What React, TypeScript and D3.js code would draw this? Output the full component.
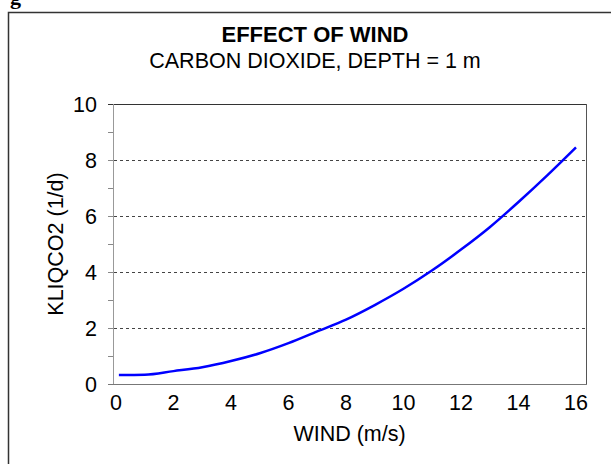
import React, { useEffect, useRef } from 'react';
import * as d3 from 'd3';

// values
const windSpeed = [0.1, 1, 2, 3, 4, 5, 6, 7, 8, 9, 10, 11, 12, 13, 14, 15, 16];
const kliqco2 = [0.32, 0.33, 0.46, 0.6, 0.82, 1.1, 1.46, 1.88, 2.3, 2.82, 3.4, 4.06, 4.8, 5.6, 6.5, 7.45, 8.45];
const xTicks = [0, 2, 4, 6, 8, 10, 12, 14, 16];
const yTicks = [0, 2, 4, 6, 8, 10];
const yMinorTicks = [0, 1, 2, 3, 4, 5, 6, 7, 8, 9, 10];
const gridValues = [2, 4, 6, 8];

const App: React.FC = () => {
  const svgRef = useRef<SVGSVGElement>(null);

  useEffect(() => {
    if (!svgRef.current) return;
    const svg = d3.select(svgRef.current);
    svg.selectAll('*').remove();

    const font = '"Liberation Sans", Arial, sans-serif';
    const left = 113, right = 586, top = 104, bottom = 384;

    const x = d3.scaleLinear().domain([0, 16]).range([116, 576]);
    const y = d3.scaleLinear().domain([0, 10]).range([bottom, top]);

    // cut-off caption glyph above the frame (clipped in the original too)
    svg.append('text')
      .attr('x', 10).attr('y', 4)
      .attr('font-family', '"Liberation Serif", "Times New Roman", serif')
      .attr('font-weight', 'bold')
      .attr('font-size', 22)
      .attr('fill', '#000')
      .text('g');

    // outer frame (runs off the right/bottom edge)
    svg.append('rect')
      .attr('x', 8.5).attr('y', 12.5)
      .attr('width', 700).attr('height', 700)
      .attr('fill', 'none')
      .attr('stroke', '#333')
      .attr('stroke-width', 1.5);

    // titles
    svg.append('text')
      .attr('x', 315).attr('y', 42)
      .attr('text-anchor', 'middle')
      .attr('font-family', font)
      .attr('font-weight', 'bold')
      .attr('font-size', 22)
      .text('EFFECT OF WIND');
    svg.append('text')
      .attr('x', 315).attr('y', 68)
      .attr('text-anchor', 'middle')
      .attr('font-family', font)
      .attr('font-size', 21.5)
      .text('CARBON DIOXIDE, DEPTH = 1 m');

    // gridlines
    svg.append('g').selectAll('line')
      .data(gridValues)
      .enter().append('line')
      .attr('x1', left - 5).attr('x2', right)
      .attr('y1', d => y(d) + 0.5).attr('y2', d => y(d) + 0.5)
      .attr('stroke', '#444')
      .attr('stroke-dasharray', '3,3');

    // y ticks
    svg.append('g').selectAll('line')
      .data(yMinorTicks)
      .enter().append('line')
      .attr('x1', left - 5).attr('x2', left)
      .attr('y1', d => y(d) + 0.5).attr('y2', d => y(d) + 0.5)
      .attr('stroke', '#888');

    // plot box
    svg.append('line')
      .attr('x1', left - 5).attr('x2', right)
      .attr('y1', top + 0.5).attr('y2', top + 0.5)
      .attr('stroke', '#333');
    svg.append('line')
      .attr('x1', right + 0.5).attr('x2', right + 0.5)
      .attr('y1', top).attr('y2', bottom)
      .attr('stroke', '#555');
    svg.append('line')
      .attr('x1', left + 0.5).attr('x2', left + 0.5)
      .attr('y1', top).attr('y2', bottom)
      .attr('stroke', '#999');
    svg.append('line')
      .attr('x1', left - 5).attr('x2', right + 1)
      .attr('y1', bottom + 0.5).attr('y2', bottom + 0.5)
      .attr('stroke', '#777');

    // tick labels
    svg.append('g').selectAll('text')
      .data(yTicks)
      .enter().append('text')
      .attr('x', 97)
      .attr('y', d => y(d) + 8)
      .attr('text-anchor', 'end')
      .attr('font-family', font)
      .attr('font-size', 21.5)
      .text(d => d);
    svg.append('g').selectAll('text')
      .data(xTicks)
      .enter().append('text')
      .attr('x', d => x(d))
      .attr('y', 410)
      .attr('text-anchor', 'middle')
      .attr('font-family', font)
      .attr('font-size', 21.5)
      .text(d => d);

    // axis titles
    svg.append('text')
      .attr('x', (left + right) / 2).attr('y', 441)
      .attr('text-anchor', 'middle')
      .attr('font-family', font)
      .attr('font-size', 21.5)
      .text('WIND (m/s)');
    svg.append('text')
      .attr('transform', `translate(63,${(top + bottom) / 2}) rotate(-90)`)
      .attr('text-anchor', 'middle')
      .attr('font-family', font)
      .attr('font-size', 21.5)
      .text('KLIQCO2 (1/d)');

    // curve
    const pts = windSpeed.map((w, i) => [w, kliqco2[i]] as [number, number]);
    const line = d3.line<[number, number]>()
      .x(d => x(d[0]))
      .y(d => y(d[1]))
      .curve(d3.curveMonotoneX);
    svg.append('path')
      .datum(pts)
      .attr('d', line)
      .attr('fill', 'none')
      .attr('stroke', '#0000ff')
      .attr('stroke-width', 2.5);
  }, []);

  return (
    <svg
      ref={svgRef}
      width={611}
      height={464}
      style={{ position: 'absolute', left: 0, top: 0, background: '#fff' }}
    />
  );
};

export default App;
